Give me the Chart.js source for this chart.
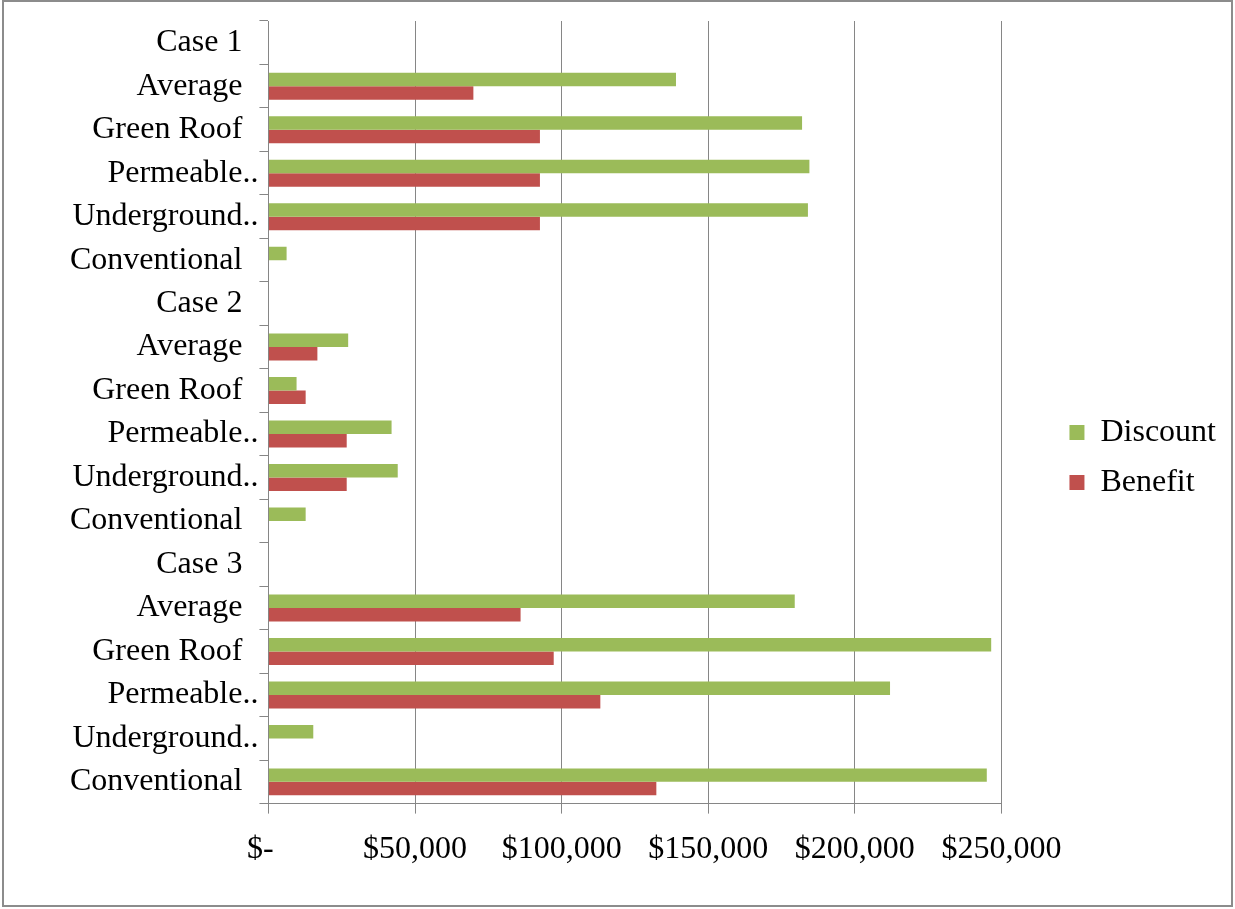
<!DOCTYPE html>
<html lang="en">

<head>
  <meta charset="UTF-8">
  <title>Discount vs Benefit</title>
  <script src="https://cdn.jsdelivr.net/npm/chart.js"></script>
  <style>
    body { margin: 0; background: #fff; }
    #wrap { position: absolute; left: 0; top: 0; width: 1235px; height: 909px; }
    #frame {
      position: absolute; left: 2px; top: 0; width: 1231px; height: 907px;
      border: 2px solid #8c8c8c; box-sizing: border-box; pointer-events: none;
    }
  </style>
</head>

<body>
  <div id="wrap"><canvas id="costChart"></canvas></div>
  <div id="frame"></div>

  <script>
    // categories, top to bottom
    const categories = [
      'Case 1', 'Average', 'Green Roof', 'Permeable..', 'Underground..', 'Conventional',
      'Case 2', 'Average', 'Green Roof', 'Permeable..', 'Underground..', 'Conventional',
      'Case 3', 'Average', 'Green Roof', 'Permeable..', 'Underground..', 'Conventional'
    ];

    const discount = [
      null, 139000, 182000, 184500, 184000, 6200,
      null, 27200, 9600, 42000, 44100, 12700,
      null, 179500, 246500, 212000, 15300, 245000
    ];

    const benefit = [
      null, 69900, 92600, 92600, 92600, 0,
      null, 16700, 12700, 26700, 26700, 0,
      null, 86000, 97300, 113200, 0, 132300
    ];

    const xTicks = [0, 50000, 100000, 150000, 200000, 250000];

    Chart.defaults.font.family = "'Liberation Serif', 'Times New Roman', serif";
    Chart.defaults.font.size = 32;
    Chart.defaults.color = '#000';

    // move the legend away from the plot, like the original
    const legendShift = {
      id: 'legendShift',
      afterLayout(chart) {
        chart.legend.left += 50;
        chart.legend.right += 50;
        chart.legend.top += 4;
        chart.legend.bottom += 4;
      }
    };

    const ctx = document.getElementById('costChart').getContext('2d');

    new Chart(ctx, {
      type: 'bar',
      data: {
        labels: categories,
        datasets: [
          { label: 'Discount', data: discount, backgroundColor: '#9BBB59' },
          { label: 'Benefit', data: benefit, backgroundColor: '#C0504D' }
        ]
      },
      options: {
        indexAxis: 'y',
        responsive: true,
        maintainAspectRatio: false,
        animation: false,
        categoryPercentage: 0.62,
        barPercentage: 1.0,
        layout: { padding: { left: 69, top: 21, right: 59, bottom: 23 } },
        plugins: {
          tooltip: { enabled: false },
          legend: {
            position: 'right',
            labels: { boxWidth: 15, boxHeight: 15, padding: 18 }
          }
        },
        scales: {
          x: {
            min: 0,
            max: 250000,
            afterBuildTicks(scale) { scale.ticks = xTicks.map(v => ({ value: v })); },
            grid: { color: '#868686', tickLength: 10 },
            border: { color: '#868686' },
            ticks: {
              padding: 17,
              maxRotation: 0,
              callback: v => v === 0 ? '$-  ' : '$' + v.toLocaleString('en-US')
            }
          },
          y: {
            grid: { drawOnChartArea: false, color: '#868686', tickLength: 9 },
            border: { color: '#868686' },
            ticks: {
              autoSkip: false,
              padding: 1,
              callback: (v, i) => categories[i].endsWith('..') ? categories[i] : categories[i] + '  '
            }
          }
        }
      },
      plugins: [legendShift]
    });
  </script>
</body>

</html>
